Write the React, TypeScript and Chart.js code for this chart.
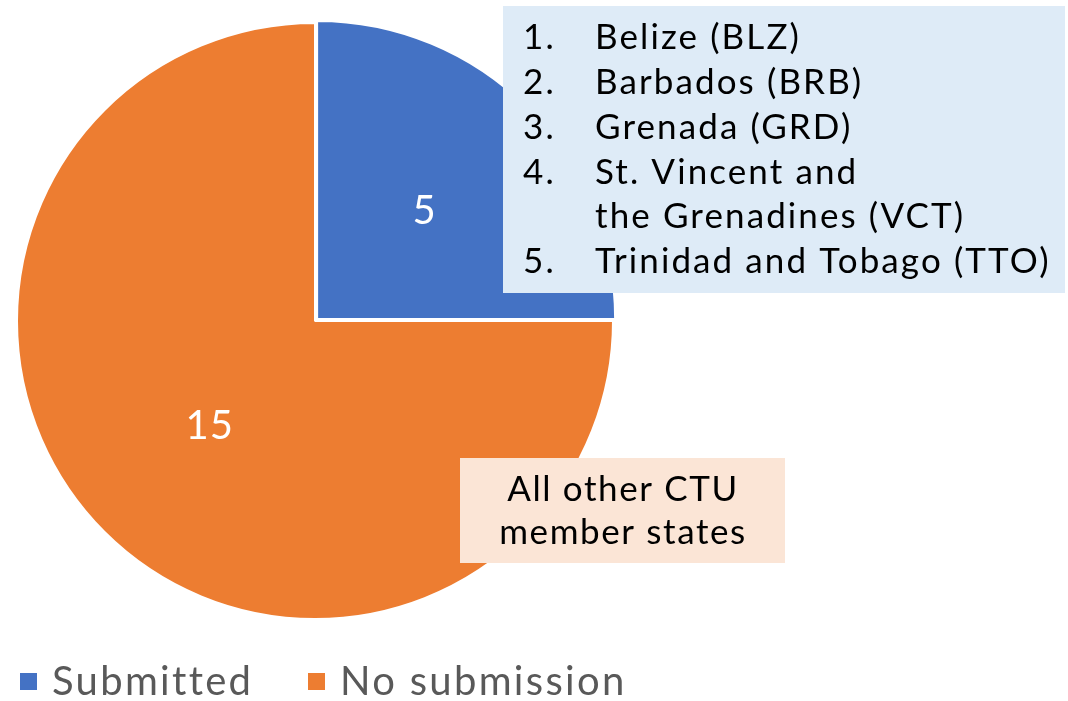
import React, { useEffect, useRef } from "react";
import { Chart, registerables } from "chart.js";

Chart.register(...registerables);

const categories = ["Submitted", "No submission"];
const counts = [5, 15];
const sliceColors = ["#4472C4", "#ED7D31"];
const submittedList = [
  ["1.", "Belize (BLZ)"],
  ["2.", "Barbados (BRB)"],
  ["3.", "Grenada (GRD)"],
  ["4.", "St. Vincent and"],
  ["", "the Grenadines (VCT)"],
  ["5.", "Trinidad and Tobago (TTO)"],
];
const otherNote = ["All other CTU", "member states"];

const FONT = "Lato, 'Open Sans', sans-serif";

const overlayPlugin = {
  id: "overlay",
  afterDraw(chart: any) {
    const ctx = chart.ctx as any;
    const meta = chart.getDatasetMeta(0);
    ctx.save();
    // data labels
    meta.data.forEach((arc: any, i: number) => {
      const p = arc.getProps(["x", "y", "startAngle", "endAngle", "outerRadius"], true);
      const mid = (p.startAngle + p.endAngle) / 2;
      const off = i === 0 ? 6 : 0;
      const r = p.outerRadius / 2 + off;
      const x = p.x + Math.cos(mid) * r;
      const y = p.y + Math.sin(mid) * r;
      ctx.fillStyle = "#FFFFFF";
      ctx.font = `40px ${FONT}`;
      ctx.letterSpacing = "1px";
      ctx.textAlign = "center";
      ctx.textBaseline = "middle";
      ctx.fillText(String(chart.data.datasets[0].data[i]), x, y);
    });

    // list box
    ctx.fillStyle = "#DEEBF7";
    ctx.fillRect(503, 6, 562, 287);
    ctx.fillStyle = "#000000";
    ctx.font = `35px ${FONT}`;
    ctx.letterSpacing = "2.1px";
    ctx.textAlign = "left";
    ctx.textBaseline = "middle";
    submittedList.forEach((row, i) => {
      const y = 38 + i * 44.8;
      if (row[0]) ctx.fillText(row[0], 523, y);
      ctx.fillText(row[1], 595, y);
    });

    // other box
    ctx.fillStyle = "#FBE5D6";
    ctx.fillRect(460, 458, 325, 105);
    ctx.fillStyle = "#000000";
    ctx.letterSpacing = "1.6px";
    ctx.textAlign = "center";
    otherNote.forEach((t, i) => {
      ctx.fillText(t, 623, 490 + i * 43);
    });

    // legend
    ctx.font = `40px ${FONT}`;
    ctx.letterSpacing = "2.3px";
    ctx.textAlign = "left";
    ctx.textBaseline = "middle";
    const xs = [20, 308];
    categories.forEach((c, i) => {
      ctx.fillStyle = sliceColors[i];
      ctx.fillRect(xs[i], 673, 17, 17);
      ctx.fillStyle = "#595959";
      ctx.fillText(c, xs[i] + 32, 682);
    });
    ctx.restore();
  },
};

export default function App() {
  const ref = useRef<HTMLCanvasElement>(null);
  useEffect(() => {
    if (!ref.current) return;
    const chart = new Chart(ref.current, {
      type: "pie",
      data: {
        labels: categories,
        datasets: [
          {
            data: counts,
            backgroundColor: sliceColors,
            borderColor: "#FFFFFF",
            borderWidth: 2,
            offset: [12, 0],
          },
        ],
      },
      options: {
        animation: false,
        responsive: false,
        rotation: 0,
        layout: { padding: { left: 10, right: 448, top: 16, bottom: 75 } },
        plugins: { legend: { display: false }, tooltip: { enabled: false } },
      },
      plugins: [overlayPlugin],
    });
    return () => chart.destroy();
  }, []);
  return (
    <div style={{ position: "fixed", left: 0, top: 0, width: 1068, height: 701, background: "#fff" }}>
      <canvas ref={ref} width={1068} height={701} style={{ width: 1068, height: 701 }} />
    </div>
  );
}
